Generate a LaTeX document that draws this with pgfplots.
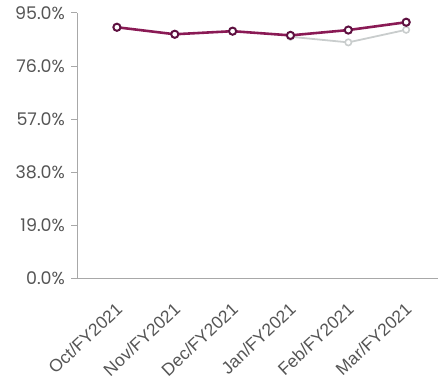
\documentclass[border=0pt]{standalone}
\usepackage{pgfplots}
\pgfplotsset{compat=1.18}
\usepackage{fontspec}
\setmainfont{Poppins}
\newfontfamily\xfont{Liberation Sans}
\definecolor{lineP}{HTML}{8A1A55}
\definecolor{markP}{HTML}{5E1040}
\definecolor{lineG}{HTML}{C9CDCD}
\definecolor{txt}{HTML}{555555}
\definecolor{axc}{HTML}{A8A8A8}
\begin{document}
\begin{tikzpicture}
\begin{axis}[
  name=ax,
  scale only axis,
  width=361bp, height=266bp,
  xmin=-0.69, xmax=5.55,
  ymin=0, ymax=95,
  axis x line*=bottom,
  axis y line*=left,
  axis line style={axc, line width=0.8pt},
  xtick={0,1,2,3,4,5},
  xticklabels={Oct/FY2021,Nov/FY2021,Dec/FY2021,Jan/FY2021,Feb/FY2021,Mar/FY2021},
  x tick label style={rotate=43, anchor=north east, font=\xfont\fontsize{17.5}{19}\selectfont, text=txt, inner sep=0pt, xshift=-13pt, yshift=-11pt},
  major x tick style={draw=none},
  ytick={0,19,38,57,76,95},
  yticklabel={\pgfmathprintnumber[fixed,fixed zerofill,precision=1]{\tick}\%},
  /pgf/number format/assume math mode=true,
  y tick label style={font=\fontsize{17.5}{19}\selectfont, text=txt, inner sep=0pt, xshift=-6pt},
  ytick style={axc, line width=0.8pt},
  tick align=outside,
  major tick length=6pt,
  clip=false,
]
\addplot[lineG, line width=1.8pt, mark=*, mark size=3.2pt, mark options={draw=lineG, fill=white, line width=1.6pt}]
  coordinates {(3,86.4) (4,84.4) (5,88.9)};
\addplot[lineP, line width=2.6pt, mark=*, mark size=3.6pt, mark options={draw=markP, fill=white, line width=2pt}]
  coordinates {(0,89.8) (1,87.3) (2,88.4) (3,86.9) (4,88.8) (5,91.6)};
\end{axis}
\pgfresetboundingbox
\path[use as bounding box] ([xshift=-77bp,yshift=-109bp]ax.south west) rectangle ([yshift=12.7bp]ax.north east);
\end{tikzpicture}
\end{document}
